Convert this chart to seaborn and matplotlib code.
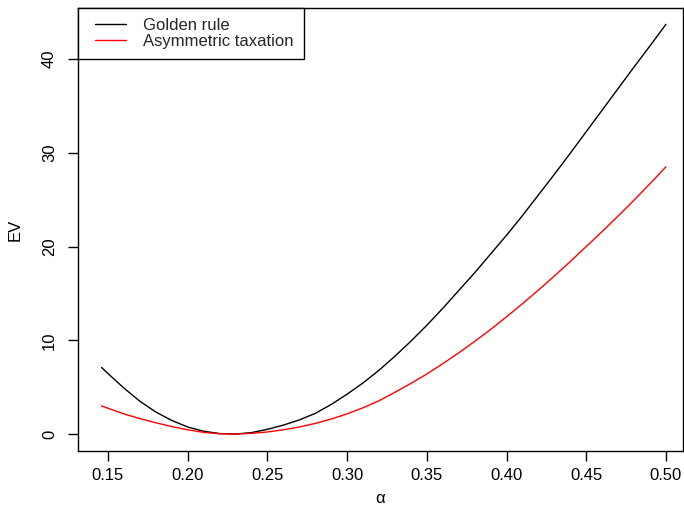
import numpy as np
import pandas as pd
import matplotlib
matplotlib.use("Agg")
import matplotlib.pyplot as plt
import seaborn as sns
from matplotlib.legend_handler import HandlerLine2D
from matplotlib.lines import Line2D

# ---- data ----
alpha = [0.146, 0.15, 0.16, 0.17, 0.18, 0.19, 0.20, 0.21, 0.22, 0.23, 0.24, 0.25,
         0.26, 0.27, 0.28, 0.29, 0.30, 0.31, 0.32, 0.33, 0.34, 0.35, 0.36, 0.37,
         0.38, 0.39, 0.40, 0.41, 0.42, 0.43, 0.44, 0.45, 0.46, 0.47, 0.48, 0.49, 0.50]
golden_rule = [7.1, 6.45, 4.9, 3.5, 2.35, 1.45, 0.75, 0.3, 0.05, 0.0, 0.15, 0.5,
               0.95, 1.5, 2.2, 3.15, 4.25, 5.45, 6.8, 8.3, 9.9, 11.6, 13.4, 15.3,
               17.2, 19.2, 21.2, 23.3, 25.5, 27.7, 29.95, 32.25, 34.55, 36.85, 39.15, 41.4, 43.7]
asym_tax = [3.0, 2.75, 2.15, 1.65, 1.2, 0.8, 0.45, 0.18, 0.03, 0.0, 0.07, 0.22,
            0.45, 0.75, 1.13, 1.6, 2.15, 2.8, 3.55, 4.45, 5.4, 6.4, 7.5, 8.65,
            9.88, 11.15, 12.5, 13.9, 15.35, 16.85, 18.4, 20.0, 21.6, 23.25, 24.95, 26.7, 28.5]
series_names = ["Golden rule", "Asymmetric taxation"]
series_colors = ["black", "red"]
x_ticks = [0.15, 0.20, 0.25, 0.30, 0.35, 0.40, 0.45, 0.50]
y_ticks = [0, 10, 20, 30, 40]
x_label = "α"
y_label = "EV"

df = pd.DataFrame({
    "alpha": alpha * 2,
    "EV": golden_rule + asym_tax,
    "series": [series_names[0]] * len(alpha) + [series_names[1]] * len(alpha),
})

sns.set_theme(style="white")
plt.rcParams["font.family"] = ["Liberation Sans", "DejaVu Sans"]

fig = plt.figure(figsize=(6.84, 5.07), dpi=100)
ax = fig.add_axes([78 / 684, 1 - 451 / 507, (683 - 78) / 684, (451 - 8) / 507])

sns.lineplot(data=df, x="alpha", y="EV", hue="series", hue_order=series_names,
             palette=series_colors, linewidth=1.0, ax=ax, legend=False,
             estimator=None, sort=False)

ax.set_xlim(0.1312, 0.5107)
ax.set_ylim(-1.81, 45.44)
ax.set_xticks(x_ticks)
ax.set_xticklabels([f"{t:.2f}" for t in x_ticks])
ax.set_yticks(y_ticks)
ax.set_yticklabels([str(t) for t in y_ticks], rotation=90, va="center")

for s in ax.spines.values():
    s.set_visible(True)
    s.set_color("black")
    s.set_linewidth(1.0)

ax.tick_params(axis="both", which="major", direction="out", length=7.2, width=1.0,
               color="black", labelsize=12, labelcolor="black",
               bottom=True, left=True, top=False, right=False)
ax.tick_params(axis="x", pad=5)
ax.tick_params(axis="y", pad=8)

ax.set_xlabel(x_label, fontsize=12, color="black", labelpad=6)
ax.set_ylabel(y_label, fontsize=12, color="black", labelpad=14)


class InsetLineHandler(HandlerLine2D):
    def get_xdata(self, legend, xdescent, ydescent, width, height, fontsize):
        xd = np.array([-xdescent + 0.17 * width, -xdescent + 0.9 * width])
        return xd, xd


handles = [Line2D([], [], color=c, linewidth=1.0) for c in series_colors]
leg = ax.legend(handles, series_names, loc="upper left", bbox_to_anchor=(0, 1),
                borderaxespad=0, fontsize=12, frameon=True, fancybox=False,
                edgecolor="black", framealpha=1, borderpad=0.6, handlelength=2.5,
                handletextpad=0.8, labelspacing=0.05,
                handler_map={Line2D: InsetLineHandler()})
leg.get_frame().set_linewidth(1.0)

fig.savefig("out.png", dpi=100, facecolor="white")
